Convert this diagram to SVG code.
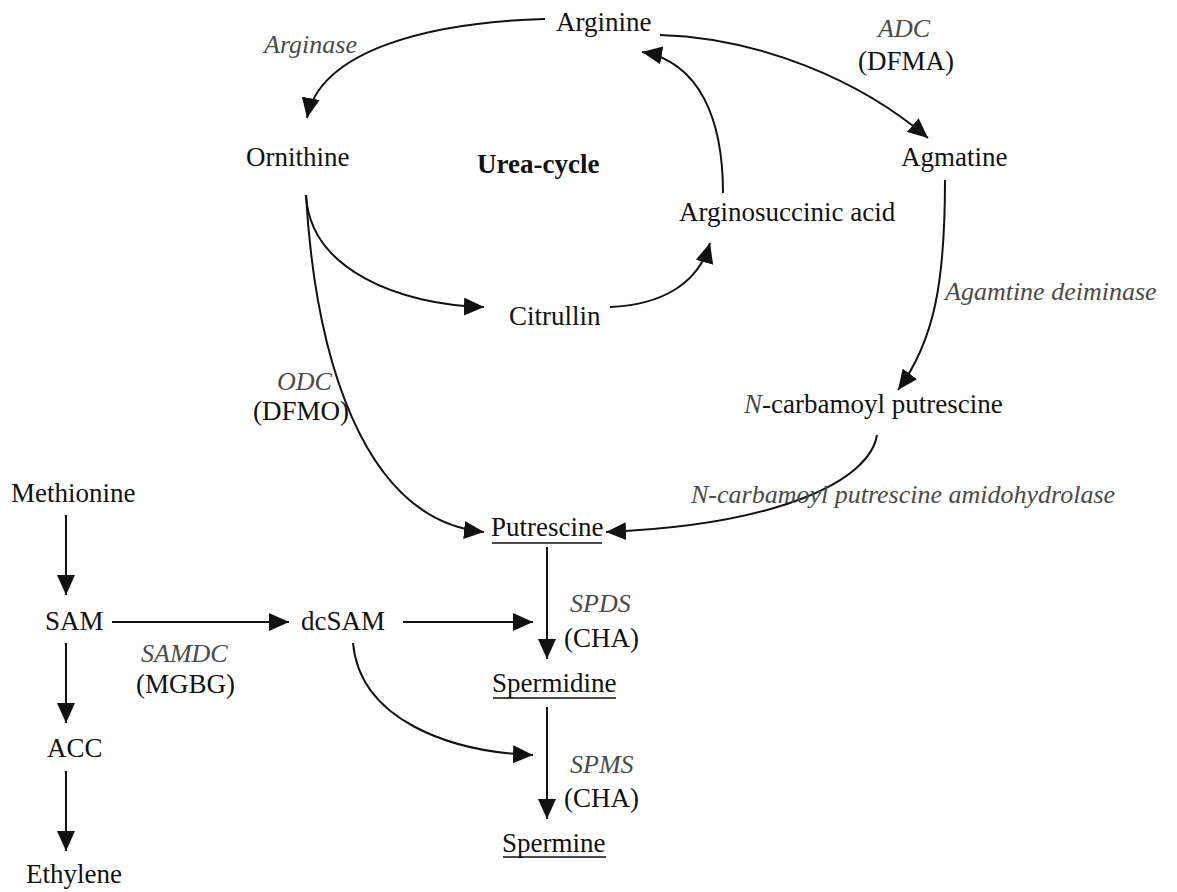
<svg xmlns="http://www.w3.org/2000/svg" width="1177" height="892" viewBox="0 0 1177 892">
<style>
text{font-family:"Liberation Serif","Times New Roman",serif;font-size:27px;fill:#111}
.enz{font-style:italic;fill:#4a4a4a;font-size:26px}
.b{font-weight:bold}
.c{fill:none;stroke:#111;stroke-width:2}
.u{stroke:#111;stroke-width:1.5}
</style>
<defs>
<marker id="ah" markerUnits="userSpaceOnUse" markerWidth="21" markerHeight="18" refX="20" refY="9" orient="auto">
<path d="M0,0 L20,9 L0,18 z" fill="#111"/>
</marker>
</defs>
<rect width="1177" height="892" fill="#fff"/>
<g id="connectors">
<path class="c" marker-end="url(#ah)" d="M545,19 C430,22 320,50 307,118"/>
<path class="c" marker-end="url(#ah)" d="M660,35 C760,38 860,80 928,138"/>
<path class="c" marker-end="url(#ah)" d="M723,193 C723,120 700,62 642,52"/>
<path class="c" marker-end="url(#ah)" d="M306,195 C310,270 400,305 484,307"/>
<path class="c" marker-end="url(#ah)" d="M610,307 C660,305 698,285 710,243"/>
<path class="c" marker-end="url(#ah)" d="M306,195 C315,350 360,520 484,532"/>
<path class="c" marker-end="url(#ah)" d="M945,180 C945,280 935,340 898,390"/>
<path class="c" marker-end="url(#ah)" d="M877,435 C870,480 780,525 606,532"/>
<path class="c" marker-end="url(#ah)" d="M66,515 L66,595"/>
<path class="c" marker-end="url(#ah)" d="M66,643 L66,723"/>
<path class="c" marker-end="url(#ah)" d="M66,771 L66,851"/>
<path class="c" marker-end="url(#ah)" d="M112,622 L289,622"/>
<path class="c" marker-end="url(#ah)" d="M403,622 L533,622"/>
<path class="c" marker-end="url(#ah)" d="M547,547 L547,659"/>
<path class="c" marker-end="url(#ah)" d="M547,707 L547,819"/>
<path class="c" marker-end="url(#ah)" d="M353,643 C360,720 450,752 533,755"/>
</g>
<g id="arginine"><text x="556" y="31">Arginine</text></g>
<g id="arginase"><text class="enz" x="264" y="53">Arginase</text></g>
<g id="adc"><text class="enz" x="878" y="37">ADC</text><text x="858" y="70">(DFMA)</text></g>
<g id="ornithine"><text x="246" y="166">Ornithine</text></g>
<g id="urea-cycle"><text class="b" x="477" y="173">Urea-cycle</text></g>
<g id="agmatine"><text x="901" y="166">Agmatine</text></g>
<g id="arginosuccinic"><text x="679" y="221">Arginosuccinic acid</text></g>
<g id="citrullin"><text x="509" y="325">Citrullin</text></g>
<g id="agmatine-deiminase"><text class="enz" x="945" y="300">Agamtine deiminase</text></g>
<g id="n-carbamoyl"><text x="744" y="413"><tspan font-style="italic" fill="#4a4a4a">N</tspan>-carbamoyl putrescine</text></g>
<g id="odc"><text class="enz" x="277" y="390">ODC</text><text x="253" y="420">(DFMO)</text></g>
<g id="amidohydrolase"><text class="enz" x="691" y="503">N-carbamoyl putrescine amidohydrolase</text></g>
<g id="methionine"><text x="11" y="502">Methionine</text></g>
<g id="putrescine"><text x="491" y="536">Putrescine</text><line class="u" x1="492" y1="543" x2="602" y2="543"/></g>
<g id="sam"><text x="45" y="630">SAM</text></g>
<g id="dcsam"><text x="301" y="630">dcSAM</text></g>
<g id="samdc"><text class="enz" x="141" y="662">SAMDC</text><text x="136" y="693">(MGBG)</text></g>
<g id="spds"><text class="enz" x="570" y="612">SPDS</text><text x="564" y="647">(CHA)</text></g>
<g id="spermidine"><text x="492" y="692">Spermidine</text><line class="u" x1="493" y1="698" x2="616" y2="698"/></g>
<g id="acc"><text x="47" y="757">ACC</text></g>
<g id="spms"><text class="enz" x="570" y="773">SPMS</text><text x="564" y="807">(CHA)</text></g>
<g id="spermine"><text x="502" y="852">Spermine</text><line class="u" x1="503" y1="857" x2="606" y2="857"/></g>
<g id="ethylene"><text x="26" y="883">Ethylene</text></g>
</svg>
